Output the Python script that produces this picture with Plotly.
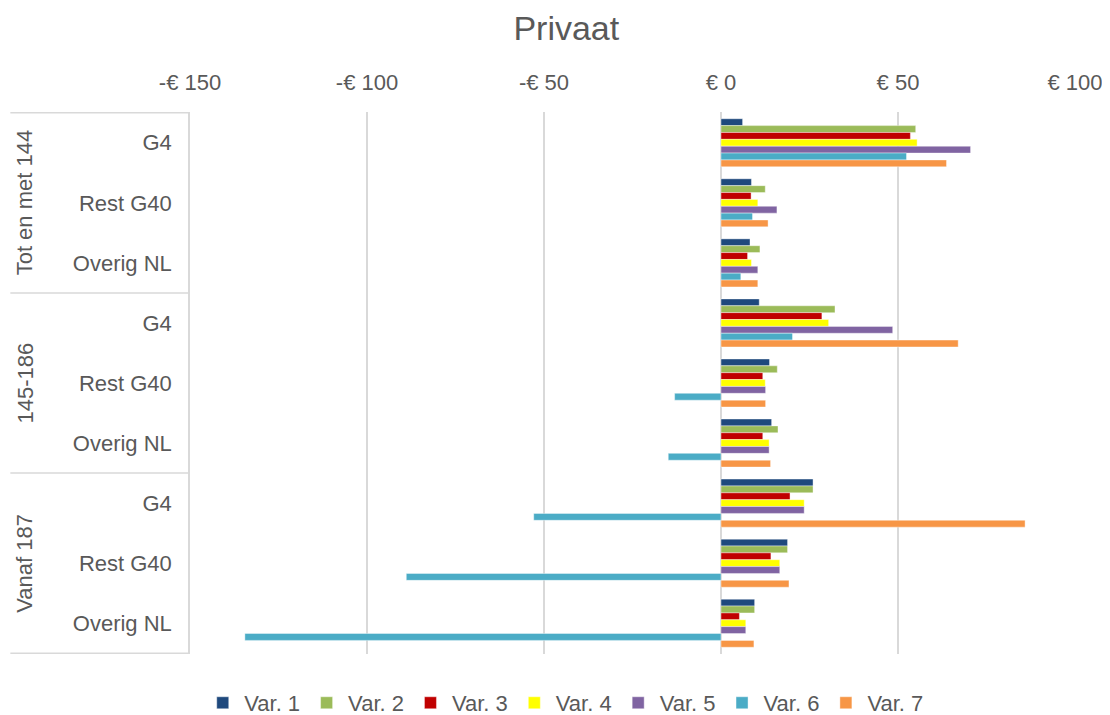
import plotly.graph_objects as go

groups = ["Tot en met 144", "145-186", "Vanaf 187"]
subcats = ["G4", "Rest G40", "Overig NL"]
series_names = ["Var. 1", "Var. 2", "Var. 3", "Var. 4", "Var. 5", "Var. 6", "Var. 7"]
colors = ["#1F497D", "#9BBB59", "#C00000", "#FFFF00", "#8064A2", "#4BACC6", "#F79646"]

var1 = [6.1, 8.6, 8.2, 10.8, 13.7, 14.3, 26.0, 18.8, 9.5]
var2 = [55.0, 12.5, 11.0, 32.2, 15.9, 16.1, 26.0, 18.8, 9.5]
var3 = [53.5, 8.5, 7.5, 28.5, 11.8, 11.8, 19.5, 14.1, 5.2]
var4 = [55.4, 10.4, 8.6, 30.4, 12.5, 13.6, 23.5, 16.6, 7.0]
var5 = [70.5, 15.8, 10.4, 48.5, 12.6, 13.6, 23.5, 16.6, 7.0]
var6 = [52.4, 8.9, 5.6, 20.2, -13.1, -14.9, -52.9, -88.9, -134.5]
var7 = [63.7, 13.3, 10.4, 67.0, 12.6, 14.0, 85.9, 19.2, 9.3]
values = [var1, var2, var3, var4, var5, var6, var7]

tick_vals = [-150, -100, -50, 0, 50, 100]
tick_text = ["-€ 150", "-€ 100", "-€ 50", "€ 0", "€ 50", "€ 100"]

cat_ids = [f"{g}|{s}" for g in groups for s in subcats]
cat_labels = [s for g in groups for s in subcats]

text_color = "#595959"
grid_color = "#D9D9D9"
font_family = "Arial, Liberation Sans, sans-serif"

fig = go.Figure()
for name, col, vals in zip(series_names, colors, values):
    fig.add_trace(go.Bar(
        y=cat_ids, x=vals, name=name, orientation="h",
        marker=dict(color=col, line=dict(color="rgba(255,255,255,0.5)", width=0.8)),
    ))

annotations = []
for i, g in enumerate(groups):
    annotations.append(dict(
        x=-0.187, xref="paper", y=cat_ids[i * 3 + 1], yref="y",
        text=g, textangle=-90, showarrow=False,
        font=dict(size=22, color=text_color, family=font_family),
        xanchor="center", yanchor="middle",
    ))

shapes = []
for b in [-0.5, 2.5, 5.5, 8.5]:
    shapes.append(dict(
        type="line", xref="paper", yref="y", x0=-0.203, x1=0, y0=b, y1=b,
        line=dict(color=grid_color, width=1.5),
    ))

fig.update_layout(
    width=1110, height=715,
    margin=dict(l=182, r=43, t=104, b=69, autoexpand=False),
    paper_bgcolor="white", plot_bgcolor="white",
    barmode="group", bargap=0.2, bargroupgap=0,
    font=dict(family=font_family, color=text_color, size=22),
    title=dict(text="Privaat", x=0.503, xanchor="center", y=0.972, yanchor="middle",
               font=dict(size=34, color=text_color, family=font_family)),
    xaxis=dict(
        side="top", range=[-150, 100], tickvals=tick_vals, ticktext=tick_text,
        showgrid=True, gridcolor=grid_color, gridwidth=1.5, zeroline=False,
        ticks="outside", ticklen=0, ticklabelstandoff=12, automargin=False,
        tickfont=dict(size=22, color=text_color), fixedrange=True,
    ),
    yaxis=dict(
        type="category", categoryorder="array", categoryarray=cat_ids,
        autorange="reversed", tickvals=cat_ids, ticktext=cat_labels,
        showline=True, linecolor=grid_color, linewidth=1.5, showgrid=False,
        ticks="outside", ticklen=12, tickcolor="rgba(0,0,0,0)", automargin=False,
        tickfont=dict(size=22, color=text_color),
    ),
    legend=dict(
        orientation="h", x=0.424, xanchor="center", yref="container", y=0.028, yanchor="middle",
        font=dict(size=22, color=text_color), itemwidth=33, traceorder="normal",
    ),
    annotations=annotations, shapes=shapes,
)

fig.write_html("out.html")
